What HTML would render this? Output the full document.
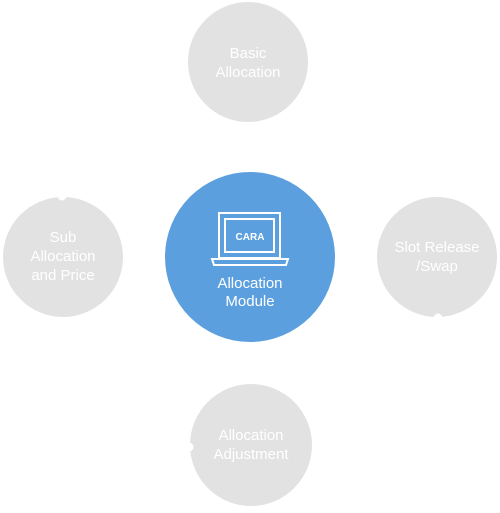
<!DOCTYPE html>
<html><head><style>
body{margin:0;background:#fff;width:500px;height:508px;overflow:hidden}
svg text{font-family:"Liberation Sans",sans-serif;fill:#fff;font-size:15px;text-anchor:middle}
</style></head><body>
<svg width="500" height="508" viewBox="0 0 500 508">
<g fill="#e2e2e2">
<circle cx="248" cy="62" r="60"/>
<circle cx="63" cy="257" r="60"/>
<circle cx="437" cy="257" r="60"/>
<circle cx="251" cy="445" r="61"/>
</g>
<g fill="#fff">
<circle cx="62" cy="196" r="4.5"/>
<circle cx="438" cy="318" r="4.5"/>
<circle cx="189" cy="447" r="4.5"/>
</g>
<circle cx="250" cy="257" r="85" fill="#5b9fdf"/>
<g fill="none" stroke="#fff" stroke-width="2">
<rect x="219" y="213" width="61" height="45"/>
<rect x="225" y="219" width="49" height="33"/>
<path d="M212 259 L288 259 L286 265 L214 265 Z"/>
</g>
<text x="250" y="240" style="font-size:10px;font-weight:bold">CARA</text>
<text x="250" y="288">Allocation</text>
<text x="250" y="306">Module</text>
<text x="248" y="58">Basic</text>
<text x="248" y="77">Allocation</text>
<text x="63" y="242">Sub</text>
<text x="63" y="261">Allocation</text>
<text x="63" y="280">and Price</text>
<text x="437" y="252">Slot Release</text>
<text x="437" y="271">/Swap</text>
<text x="251" y="440">Allocation</text>
<text x="251" y="459">Adjustment</text>
</svg>
</body></html>
